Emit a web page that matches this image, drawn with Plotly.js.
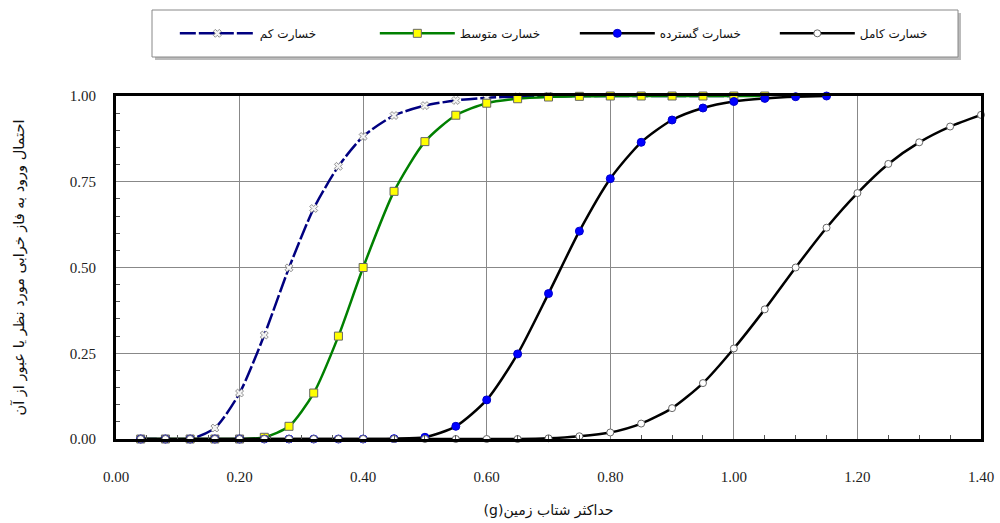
<!DOCTYPE html>
<html>
<head>
<meta charset="utf-8">
<script src="https://cdn.plot.ly/plotly-3.0.1.min.js"></script>
<style>html,body{margin:0;padding:0;background:#fff;}#chart{width:1000px;height:523px;}</style>
</head>
<body>
<div id="chart"></div>
<script>
// Peak ground acceleration (g)
const pga = [0.04,0.08,0.12,0.16,0.20,0.24,0.28,0.32,0.36,0.40,0.45,0.50,0.55,0.60,0.65,0.70,0.75,0.80,0.85,0.90,0.95,1.00,1.05,1.10,1.15,1.20,1.25,1.30,1.35,1.40];
const seriesNames = ["خسارت کم","خسارت متوسط","خسارت گسترده","خسارت کامل"];
const slight    = [0,0,0,0.032,0.134,0.303,0.499,0.672,0.795,0.882,0.943,0.972,0.987,0.995,0.998,0.999,1,1,1,1,1,1];
const moderate  = [0,0,0,0,0,0.005,0.037,0.134,0.300,0.500,0.722,0.867,0.944,0.979,0.992,0.997,0.999,1,1,1,1,1,1];
const extensive = [0,0,0,0,0,0,0,0,0,0,0.001,0.005,0.037,0.114,0.248,0.424,0.606,0.759,0.865,0.930,0.965,0.984,0.993,0.998,1.0];
const complete  = [0,0,0,0,0,0,0,0,0,0,0,0,0,0,0,0.002,0.008,0.019,0.045,0.090,0.163,0.264,0.378,0.500,0.616,0.717,0.802,0.865,0.911,0.945];
const xTitle = "حداکثر شتاب زمین(g)";
const yTitle = "احتمال ورود به فاز خرابی مورد نظر یا عبور از آن";

const rtl = s => "\u202B" + s + "\u202C";
const lineShape = {shape:'spline', smoothing:0.7};
const traces = [
  {x: pga.slice(0, slight.length), y: slight, name: seriesNames[0], mode:'lines+markers', cliponaxis:false,
   line: Object.assign({color:'#000080', width:2.5, dash:'16px,3px'}, lineShape),
   marker:{symbol:'x', size:7, color:'#f4f4f4', line:{color:'#777', width:0.8}}},
  {x: pga.slice(0, moderate.length), y: moderate, name: seriesNames[1], mode:'lines+markers', cliponaxis:false,
   line: Object.assign({color:'#008000', width:2.5}, lineShape),
   marker:{symbol:'square', size:8, color:'#ffff00', line:{color:'#666', width:1}}},
  {x: pga.slice(0, extensive.length), y: extensive, name: seriesNames[2], mode:'lines+markers', cliponaxis:false,
   line: Object.assign({color:'#000000', width:2.5}, lineShape),
   marker:{symbol:'circle', size:8, color:'#0000ff', line:{color:'#0000cc', width:1}}},
  {x: pga.slice(0, complete.length), y: complete, name: seriesNames[3], mode:'lines+markers', cliponaxis:false,
   line: Object.assign({color:'#000000', width:2.5}, lineShape),
   marker:{symbol:'circle', size:7, color:'#ffffff', line:{color:'#666', width:1}}}
];

const tickFont = {family:'Liberation Serif, Times New Roman, serif', size:15, color:'#222'};
const layout = {
  width:1000, height:523,
  margin:{l:116, r:19, t:96, b:84},
  paper_bgcolor:'#fff', plot_bgcolor:'#fff',
  showlegend:true,
  legend:{orientation:'h', x:0.068, y:1.225, xanchor:'left', yanchor:'top',
          bgcolor:'rgba(0,0,0,0)', borderwidth:0, itemwidth:75, entrywidth:110, entrywidthmode:'pixels',
          font:{family:'DejaVu Sans, sans-serif', size:12, color:'#111'}},
  xaxis:{range:[0,1.4], dtick:0.2, tickformat:'.2f', showgrid:true, gridcolor:'#888', gridwidth:1,
         zeroline:false, showline:true, mirror:true, linecolor:'#000', linewidth:3,
         ticks:'', ticklabelstandoff:22, tickfont:tickFont,
         minor:{dtick:0.05, ticks:'inside', ticklen:4, tickcolor:'#555', showgrid:false},
         title:{text:rtl(xTitle), standoff:22, font:{family:'DejaVu Sans, sans-serif', size:14, color:'#111'}}},
  yaxis:{range:[0,1], dtick:0.25, tickformat:'.2f', showgrid:true, gridcolor:'#888', gridwidth:1,
         zeroline:false, showline:true, mirror:true, linecolor:'#000', linewidth:3,
         ticks:'', ticklabelstandoff:14, tickfont:tickFont,
         minor:{dtick:0.05, ticks:'inside', ticklen:4, tickcolor:'#555', showgrid:false},
         title:{text:rtl(yTitle), standoff:42, font:{family:'DejaVu Sans, sans-serif', size:14.5, color:'#111'}}},
  shapes:[
    {type:'rect', xref:'paper', yref:'paper', x0:(155-116)/865, x1:(961-116)/865, y0:1+(96-60)/343, y1:1+(96-13)/343,
     fillcolor:'#bbb', line:{width:0}, layer:'below'},
    {type:'rect', xref:'paper', yref:'paper', x0:(152-116)/865, x1:(958-116)/865, y0:1+(96-57)/343, y1:1+(96-10)/343,
     fillcolor:'#fff', line:{color:'#888', width:1}, layer:'below'}
  ]
};
Plotly.newPlot('chart', traces, layout, {displayModeBar:false, staticPlot:true});
</script>
</body>
</html>
